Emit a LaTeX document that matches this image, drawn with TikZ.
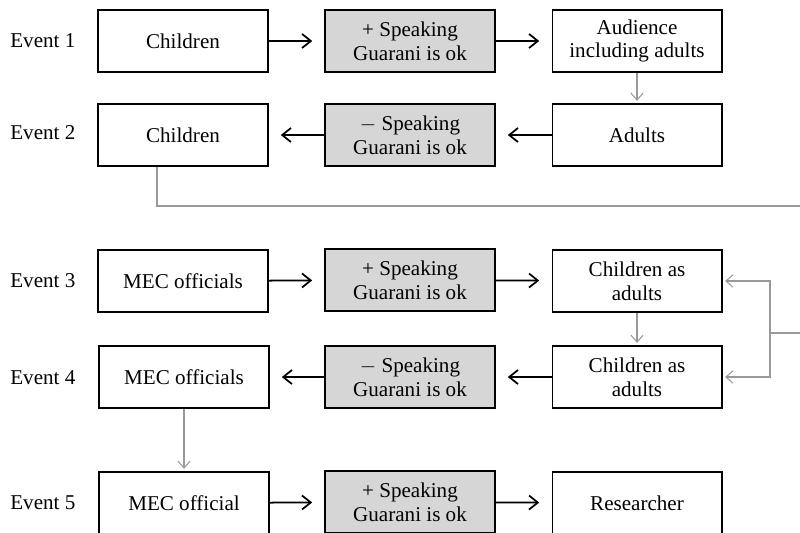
\documentclass[tikz,border=0pt]{standalone}
\usepackage{fontspec}
\setmainfont{Liberation Serif}
\usetikzlibrary{arrows.meta,calc}

\begin{document}
\begin{tikzpicture}[x=0.02cm,y=-0.02cm,
    box/.style={draw,semithick,minimum width=3.4cm,minimum height=1.24cm,
                align=center,inner sep=1pt,font=\fontsize{12}{13.5}\selectfont},
    okbox/.style={box,fill=black!16},
    evlabel/.style={anchor=west,inner sep=0pt,font=\fontsize{12}{13.5}\selectfont},
    flow/.style={-{Straight Barb[length=5pt,width=8pt]},line width=1pt,shorten >=7pt},
    link/.style={-{Straight Barb[length=4pt,width=7pt]},black!40,semithick,shorten >=1.5pt}]

  \useasboundingbox (0,0) rectangle (800,532);

  % event 1
  \node[evlabel] (E1) at (10,41) {Event 1};
  \node[box]   (C1) at (183,41) {Children};
  \node[okbox] (S1) at (410,41) {+ Speaking\\Guarani is ok};
  \node[box]   (A1) at (637,41) {Audience\\including adults};

  % event 2
  \node[evlabel] (E2) at (10,133) {Event 2};
  \node[box]   (C2) at (183,135) {Children};
  \node[okbox] (S2) at (410,135) {$-$ Speaking\\Guarani is ok};
  \node[box]   (A2) at (637,135) {Adults};

  % event 3
  \node[evlabel] (E3) at (10,281) {Event 3};
  \node[box]   (M3) at (183,281) {MEC officials};
  \node[okbox] (S3) at (410,280) {+ Speaking\\Guarani is ok};
  \node[box]   (K3) at (637,281) {Children as\\adults};

  % event 4
  \node[evlabel] (E4) at (10,378) {Event 4};
  \node[box]   (M4) at (184,377) {MEC officials};
  \node[okbox] (S4) at (410,377) {$-$ Speaking\\Guarani is ok};
  \node[box]   (K4) at (637,377) {Children as\\adults};

  % event 5
  \node[evlabel] (E5) at (10,503) {Event 5};
  \node[box]   (M5) at (184,503) {MEC official};
  \node[okbox] (S5) at (410,502) {+ Speaking\\Guarani is ok};
  \node[box]   (R5) at (637,503) {Researcher};

  \coordinate (T1) at (800,206);
  \coordinate (T2) at (800,333);
  \coordinate (B1) at (770,333);

  \path[flow] (C1) edge (S1)
              (S1) edge (A1)
              (A2) edge (S2)
              (S2) edge (C2)
              (M3) edge (S3)
              (S3) edge (K3)
              (K4) edge (S4)
              (S4) edge (M4)
              (M5) edge (S5)
              (S5) edge (R5);

  \draw[link] (A1) -- (A2);
  \draw[link] (K3) -- (K4);
  \draw[link] (M4) -- (M5);
  \draw[black!40,semithick] (C2.south -| 157,0) |- (T1);
  \draw[black!40,semithick] (T2) -- (B1);
  \draw[link] (B1) |- (K3.east);
  \draw[link] (B1) |- (K4.east);
\end{tikzpicture}
\end{document}
